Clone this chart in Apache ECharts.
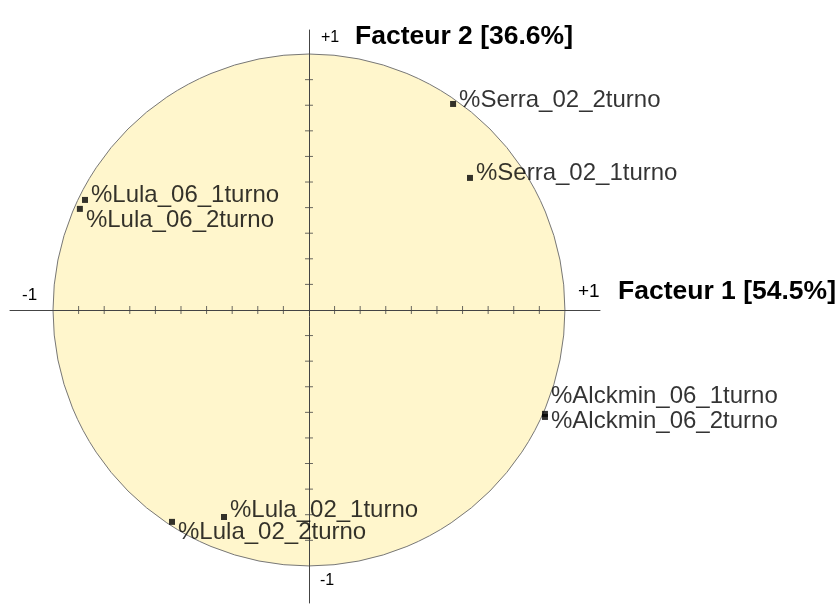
<!DOCTYPE html>
<html>
<head>
<meta charset="utf-8">
<script src="https://cdn.jsdelivr.net/npm/echarts@6/dist/echarts.min.js"></script>
<style>
  html, body { margin: 0; padding: 0; background: #fff; }
  #chart { width: 838px; height: 606px; }
</style>
</head>
<body>
<div id="chart"></div>
<script>
// variables on the correlation circle
const varNames = [
  '%Serra_02_2turno', '%Serra_02_1turno',
  '%Lula_06_1turno', '%Lula_06_2turno',
  '%Alckmin_06_1turno', '%Alckmin_06_2turno',
  '%Lula_02_1turno', '%Lula_02_2turno'
]
const factor1 = [0.563, 0.629, -0.875, -0.895, 0.922, 0.922, -0.332, -0.535]
const factor2 = [0.805, 0.516, 0.430, 0.395, -0.406, -0.418, -0.809, -0.828]
const tickValues = [-0.9, -0.8, -0.7, -0.6, -0.5, -0.4, -0.3, -0.2, -0.1,
  0.1, 0.2, 0.3, 0.4, 0.5, 0.6, 0.7, 0.8, 0.9]
const axisTitles = ['Facteur 1 [54.5%]', 'Facteur 2 [36.6%]']

// vertical label shift per point (label text placement only)
const labelShift = [-4, -5, -5, 11, -18, 4, -7, 11]

const FONT = '"Liberation Sans", Arial, Helvetica, sans-serif'

const chart = echarts.init(document.getElementById('chart'))

const option = {
  backgroundColor: '#fff',
  animation: false,
  grid: { left: 10, right: 238, top: 30, bottom: 3 },
  xAxis: {
    type: 'value', min: -1.168, max: 1.137, z: 10,
    axisLine: { onZero: true, lineStyle: { color: '#444', width: 1 } },
    axisTick: { show: false }, axisLabel: { show: false }, splitLine: { show: false }
  },
  yAxis: {
    type: 'value', min: -1.145, max: 1.094, z: 10,
    axisLine: { onZero: true, lineStyle: { color: '#444', width: 1 } },
    axisTick: { show: false }, axisLabel: { show: false }, splitLine: { show: false }
  },
  graphic: [
    { type: 'text', x: 22, y: 295, style: { text: '-1', font: '17px ' + FONT, fill: '#000', verticalAlign: 'middle' } },
    { type: 'text', x: 578, y: 292, style: { text: '+1', font: '19px ' + FONT, fill: '#000', verticalAlign: 'middle' } },
    { type: 'text', x: 618, y: 292, style: { text: axisTitles[0], font: 'bold 26.5px ' + FONT, fill: '#000', verticalAlign: 'middle' } },
    { type: 'text', x: 321, y: 38, style: { text: '+1', font: '16px ' + FONT, fill: '#000', verticalAlign: 'middle' } },
    { type: 'text', x: 355, y: 37, style: { text: axisTitles[1], font: 'bold 26.5px ' + FONT, fill: '#000', verticalAlign: 'middle' } },
    { type: 'text', x: 320, y: 581, style: { text: '-1', font: '16px ' + FONT, fill: '#000', verticalAlign: 'middle' } }
  ],
  series: [
    {
      // unit circle
      type: 'custom',
      silent: true,
      z: 1,
      data: [[0, 0, 1]],
      renderItem: function (params, api) {
        const c = api.coord([api.value(0), api.value(1)])
        const e = api.coord([api.value(2), 0])
        return {
          type: 'circle',
          shape: { cx: c[0], cy: c[1], r: e[0] - c[0] },
          style: { fill: '#fff6cc', stroke: '#777', lineWidth: 1 }
        }
      }
    },
    {
      // ticks on the horizontal axis
      type: 'scatter', silent: true, z: 12,
      symbol: 'rect', symbolSize: [1, 8],
      itemStyle: { color: '#444' },
      data: tickValues.map(v => [v, 0])
    },
    {
      // ticks on the vertical axis
      type: 'scatter', silent: true, z: 12,
      symbol: 'rect', symbolSize: [8, 1],
      itemStyle: { color: '#444' },
      data: tickValues.map(v => [0, v])
    },
    {
      type: 'scatter', z: 15,
      symbol: 'rect', symbolSize: 6,
      itemStyle: { color: '#000' },
      label: {
        show: true, position: 'right', distance: 3,
        fontFamily: FONT, fontSize: 24, color: '#000',
        formatter: p => p.name
      },
      data: varNames.map((n, i) => ({
        name: n,
        value: [factor1[i], factor2[i]],
        label: { offset: [0, labelShift[i]] }
      }))
    }
  ]
}

chart.setOption(option)
</script>
</body>
</html>
